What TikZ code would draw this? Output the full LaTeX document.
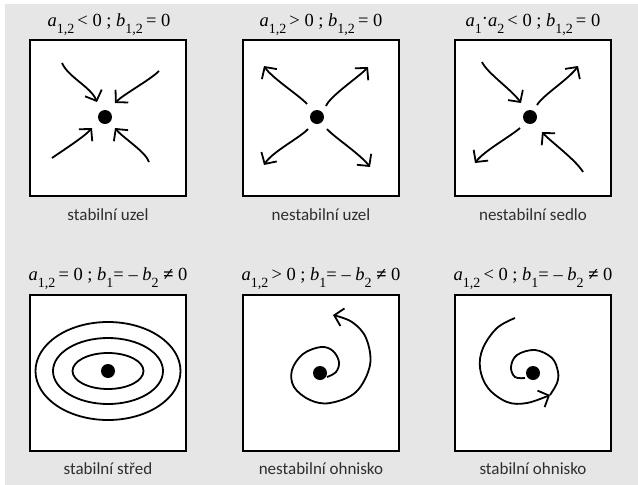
\documentclass[tikz,border=0pt]{standalone}
\usepackage{fontspec}
\setmainfont{Liberation Serif}
\newfontfamily\labelfont{Carlito}
\usepackage{xcolor}
\definecolor{panelgray}{HTML}{E6E6E6}
\definecolor{labelgray}{HTML}{2E2E2E}
\usetikzlibrary{arrows.meta}
\newcommand{\ix}[2]{\textit{#1}\raisebox{-7.5pt}{\fontsize{14}{14}\selectfont #2}}
\tikzset{
  panel/.style={line width=1.9pt, fill=white},
  flow/.style={line width=1.8pt, -{Straight Barb[length=8.5pt,width=18pt]}},
  orbit/.style={line width=1.8pt},
  pole/.style={circle, fill=black, inner sep=0pt, minimum size=14pt},
  headline/.style={font=\fontsize{18.5}{18.5}\selectfont, anchor=base},
  tag/.style={font=\labelfont\fontsize{17}{17}\selectfont, text=labelgray, anchor=base},
}

\begin{document}
\begin{tikzpicture}[x=1pt, y=-1pt]
  \useasboundingbox (0,0) rectangle (638,485);
  \fill[panelgray] (5,4) rectangle (638,485);
  % Boxes
  \draw[panel] (30,40)   rectangle (186,196);
  \draw[panel] (243,40)  rectangle (399,196);
  \draw[panel] (455,40)  rectangle (611,196);
  \draw[panel] (30,295)  rectangle (186,451);
  \draw[panel] (243,295) rectangle (399,451);
  \draw[panel] (455,295) rectangle (611,451);

  % Panel 1 — stabilní uzel
  \node[pole] (p1) at (105,117) {};
  \draw[flow] (62,63)   .. controls (68,77)   and (91,87)   .. (97,102);
  \draw[flow] (159,71)  .. controls (150,80)  and (124,94)  .. (115,103);
  \draw[flow] (52,158)  .. controls (62,151)  and (84,137)  .. (92,128);
  \draw[flow] (149,162) .. controls (146,152) and (122,137) .. (115,128);

  % Panel 2 — nestabilní uzel
  \node[pole] (p2) at (317,117) {};
  \draw[flow] (307,104) .. controls (300,96)  and (272,78)  .. (264,66);
  \draw[flow] (326,106) .. controls (330,96)  and (360,76)  .. (368,67);
  \draw[flow] (308,129) .. controls (301,137) and (272,152) .. (264,165);
  \draw[flow] (327,129) .. controls (334,137) and (360,154) .. (370,167);

  % Panel 3 — nestabilní sedlo
  \node[pole] (p3) at (530,117) {};
  \draw[flow] (482,62)  .. controls (487,73)  and (512,90)  .. (521,103);
  \draw[flow] (537,105) .. controls (543,95)  and (569,79)  .. (578,66);
  \draw[flow] (520,128) .. controls (511,136) and (484,151) .. (475,163);
  \draw[flow] (583,172) .. controls (576,160) and (550,141) .. (542,132);

  % Panel 4 — stabilní střed
  \node[pole] (p4) at (108,371) {};
  \draw[orbit] (p4.center) ellipse [x radius=35.5pt, y radius=18pt];
  \draw[orbit] (p4.center) ellipse [x radius=55pt,   y radius=33pt];
  \draw[orbit] (p4.center) ellipse [x radius=72.5pt, y radius=49pt];

  % Panel 5 — nestabilní ohnisko
  \node[pole] (p5) at (320,373) {};
  \draw[flow] plot[smooth, tension=0.6] coordinates {(327,377) (336,372) (339,362) (333,351) (321,347)
    (303,354) (292,370) (294,387) (310,400) (330,403) (356,392) (370,365) (366,338) (352,322) (333,315)};

  % Panel 6 — stabilní ohnisko
  \node[pole] (p6) at (533,373) {};
  \draw[flow] plot[smooth, tension=0.6] coordinates {(515,318) (497,328) (483,348) (480,368) (488,388)
    (507,402) (527,403) (550,395)};
  \draw[orbit] plot[smooth, tension=0.6] coordinates {(550,395) (557,383) (558,372) (552,358) (535,350)
    (517,355) (511,367) (515,377) (525,378)};

  % Titles
  \node[headline] (t1) at (109,26)  {\ix{a}{1,2}\,< 0 ; \ix{b}{1,2}\,= 0};
  \node[headline] (t2) at (321,26)  {\ix{a}{1,2}\,> 0 ; \ix{b}{1,2}\,= 0};
  \node[headline] (t3) at (533,26)  {\ix{a}{1}\raisebox{2pt}{·}\ix{a}{2}\,< 0 ; \ix{b}{1,2}\,= 0};
  \node[headline] (t4) at (108,280) {\ix{a}{1,2}\,= 0 ; \ix{b}{1}= – \ix{b}{2} \textbf{≠} 0};
  \node[headline] (t5) at (321,280) {\ix{a}{1,2}\,> 0 ; \ix{b}{1}= – \ix{b}{2} \textbf{≠} 0};
  \node[headline] (t6) at (533,280) {\ix{a}{1,2}\,< 0 ; \ix{b}{1}= – \ix{b}{2} \textbf{≠} 0};

  % Labels
  \node[tag] (l1) at (108,220) {stabilní uzel};
  \node[tag] (l2) at (321,220) {nestabilní uzel};
  \node[tag] (l3) at (533,220) {nestabilní sedlo};
  \node[tag] (l4) at (108,474) {stabilní střed};
  \node[tag] (l5) at (321,474) {nestabilní ohnisko};
  \node[tag] (l6) at (533,474) {stabilní ohnisko};
\end{tikzpicture}
\end{document}
